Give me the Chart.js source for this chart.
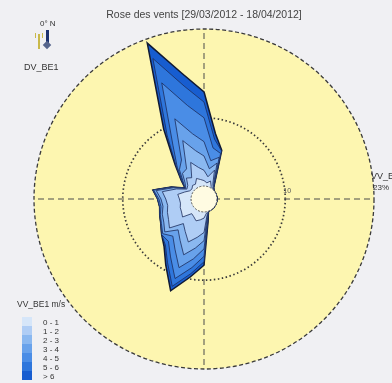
<!DOCTYPE html>
<html>
<head>
<meta charset="utf-8">
<script src="https://cdn.jsdelivr.net/npm/chart.js@4.4.1/dist/chart.umd.min.js"></script>
<style>
  html, body { margin: 0; padding: 0; width: 392px; height: 383px; overflow: hidden; background: #f0f0f3; font-family: "Liberation Sans", Arial, sans-serif; }
  #wrap { position: absolute; left: 24px; top: 19px; width: 360px; height: 360px; }
  .t { position: absolute; white-space: nowrap; color: #333; line-height: 1; }
  #legend .row { position: absolute; left: 0; height: 9px; width: 60px; }
  #legend .sw { position: absolute; left: 0; top: 0; width: 10px; height: 9px; }
  #legend .lb { position: absolute; left: 21px; top: 1px; font-size: 8px; color: #333; white-space: nowrap; }
  .vane { position: absolute; }
</style>
</head>
<body>
<div id="wrap"><canvas id="rose"></canvas></div>

<div class="t" style="left:0;width:408px;text-align:center;top:9px;font-size:10.5px;color:#444;">Rose des vents [29/03/2012 - 18/04/2012]</div>

<!-- north indicator -->
<div class="t" style="left:40px;top:20px;font-size:8px;">0° N</div>
<div class="vane" style="left:38px;top:34px;width:2px;height:15px;background:#c9b94a;"></div>
<div class="vane" style="left:35px;top:33px;width:8px;height:5px;border-left:1px solid #c9b94a;border-right:1px solid #c9b94a;box-sizing:border-box;"></div>
<div class="vane" style="left:46px;top:30px;width:3px;height:13px;background:#1d3270;"></div>
<div class="vane" style="left:44px;top:42px;width:6px;height:6px;background:#56658c;transform:rotate(45deg);"></div>
<div class="t" style="left:24px;top:63px;font-size:9px;">DV_BE1</div>

<!-- radial axis labels -->
<div class="t" id="ringLabel" style="font-size:7px;color:#555;"></div>
<div class="t" id="axisName" style="font-size:9px;"></div>
<div class="t" id="axisMax" style="font-size:8px;"></div>

<!-- speed legend -->
<div class="t" id="legendTitle" style="left:17px;top:300px;font-size:8.5px;"></div>
<div id="legend" style="position:absolute;left:22px;top:317px;"></div>

<script>
// Wind direction sectors (degrees from north, 10° steps)
const directions = [0, 10, 20, 30, 40, 50, 60, 70, 80, 90, 100, 110, 120, 130, 140, 150, 160, 170,
                    180, 190, 200, 210, 220, 230, 240, 250, 260, 270, 280, 290, 300, 310, 320, 330, 340, 350];

// Wind speed classes (m/s)
const speedClasses = ['0 - 1', '1 - 2', '2 - 3', '3 - 4', '4 - 5', '5 - 6', '> 6'];
const speedVariable = 'VV_BE1 m/s';
const radialVariable = 'VV_BE1';

// Frequency (%) per direction for each speed class
const class1 = [0.8, 0.5, 0.9, 0.2, 0.1, 0, 0, 0, 0, 0, 0, 0, 0, 0, 0, 0, 0, 0.2, 0.9, 1.2, 1.5, 1.1, 0.9, 2.2, 1.9, 1.8, 1.6, 1.7, 2.0, 1.1, 0.5, 0.4, 0.7, 0.6, 1.3, 1.0];
const class2 = [1.5, 0.9, 1.7, 0.5, 0.1, 0, 0, 0, 0, 0, 0, 0, 0, 0, 0, 0, 0, 0.4, 2.1, 2.6, 3.3, 2.5, 1.9, 2.5, 2.2, 2.0, 1.9, 2.0, 2.3, 1.3, 0.5, 0.8, 1.4, 1.1, 2.5, 1.8];
const class3 = [2.1, 1.2, 1.1, 0.3, 0.1, 0, 0, 0, 0, 0, 0, 0, 0, 0, 0, 0, 0, 0.2, 1.2, 1.6, 2.0, 1.5, 1.2, 0.9, 0.8, 0.8, 0.7, 0.7, 0.9, 0.5, 0.2, 0.5, 0.9, 1.5, 3.4, 2.5];
const class4 = [2.1, 1.2, 0.9, 0.2, 0, 0, 0, 0, 0, 0, 0, 0, 0, 0, 0, 0, 0, 0.3, 1.2, 1.6, 2.0, 1.5, 1.2, 0.4, 0.4, 0.3, 0.3, 0.3, 0.4, 0.2, 0.1, 0.4, 0.7, 1.5, 3.4, 2.5];
const class5 = [3.5, 1.9, 0.6, 0.2, 0, 0, 0, 0, 0, 0, 0, 0, 0, 0, 0, 0, 0, 0.2, 1.1, 1.3, 1.7, 1.3, 1.0, 0.2, 0.1, 0.1, 0.2, 0.2, 0.1, 0.1, 0, 0.2, 0.5, 2.5, 5.6, 4.2];
const class6 = [2.3, 1.3, 0.4, 0.1, 0, 0, 0, 0, 0, 0, 0, 0, 0, 0, 0, 0, 0, 0.1, 0.8, 0.9, 1.2, 0.9, 0.7, 0, 0, 0, 0, 0, 0, 0, 0, 0.2, 0.3, 1.7, 3.8, 2.9];
const class7 = [1.5, 0.8, 0.1, 0, 0, 0, 0, 0, 0, 0, 0, 0, 0, 0, 0, 0, 0, 0.1, 0.5, 0.5, 0.7, 0.5, 0.3, 0, 0, 0, 0, 0, 0, 0, 0, 0, 0.2, 1.0, 2.4, 1.9];

// Radial axis: rings and range (%); the negative minimum leaves a calm hub in the middle
const ringValues = [10, 23];
const ringLabel = '10';
const axisMaxLabel = '23%';
const rMin = -1.9;
const rMax = 23;

const classSeries = [class1, class2, class3, class4, class5, class6, class7];
const classColors = ['#d6e6f9', '#afcdf5', '#8ab8f0', '#68a2eb', '#4a8de6', '#2e76dc', '#175dd0'];

// Stacked (cumulative) polygons, lightest class on top
const cumulative = [];
classSeries.forEach((series, k) => {
  cumulative.push(series.map((v, i) => +(v + (k ? cumulative[k - 1][i] : 0)).toFixed(2)));
});

const datasets = cumulative.map((values, k) => ({
  label: speedClasses[k],
  data: values,
  backgroundColor: classColors[k],
  borderColor: k === cumulative.length - 1 ? '#111a33' : '#1c2c5c',
  borderWidth: k === cumulative.length - 1 ? 1.5 : 0.8,
  fill: 'start',
  pointRadius: 0
}));

// Yellow disk behind the grid
const diskPlugin = {
  id: 'disk',
  beforeDraw(chart) {
    const s = chart.scales.r;
    const ctx = chart.ctx;
    ctx.save();
    ctx.beginPath();
    ctx.arc(s.xCenter, s.yCenter, s.drawingArea, 0, Math.PI * 2);
    ctx.fillStyle = '#fdf6b0';
    ctx.fill();
    ctx.restore();
  }
};

// Calm hub drawn over the rose
const hubPlugin = {
  id: 'hub',
  afterDatasetsDraw(chart) {
    const s = chart.scales.r;
    const ctx = chart.ctx;
    const r = s.getDistanceFromCenterForValue(0);
    ctx.save();
    ctx.beginPath();
    ctx.arc(s.xCenter, s.yCenter, r, 0, Math.PI * 2);
    ctx.fillStyle = '#fffbe2';
    ctx.fill();
    ctx.setLineDash([2, 1.5]);
    ctx.strokeStyle = '#555';
    ctx.lineWidth = 1;
    ctx.stroke();
    ctx.restore();
  }
};

const chart = new Chart(document.getElementById('rose'), {
  type: 'radar',
  data: { labels: directions.map(d => d + '°'), datasets },
  options: {
    responsive: true,
    maintainAspectRatio: false,
    animation: false,
    layout: { padding: 10 },
    plugins: { legend: { display: false }, title: { display: false }, tooltip: { enabled: false } },
    elements: { point: { radius: 0, hoverRadius: 0 }, line: { tension: 0 } },
    scales: {
      r: {
        min: rMin,
        max: rMax,
        startAngle: 0,
        afterBuildTicks: s => { s.ticks = ringValues.map(v => ({ value: v })); },
        ticks: { display: false },
        pointLabels: { display: false },
        grid: {
          circular: true,
          color: '#3a3a3a',
          lineWidth: c => (c.tick && c.tick.value === rMax ? 1.3 : 1.7)
        },
        border: {
          dash: c => (c.tick && c.tick.value === rMax ? [4, 2.5] : [1.5, 2.5])
        },
        angleLines: {
          color: c => (c.index % 9 === 0 ? '#4a4a4a' : 'rgba(0,0,0,0)'),
          lineWidth: c => (c.index % 9 === 0 ? 1 : 0),
          borderDash: [6, 4]
        }
      }
    }
  },
  plugins: [diskPlugin, hubPlugin]
});

// Axis labels placed from the scale geometry
(function placeLabels() {
  const s = chart.scales.r;
  const ox = 24, oy = 19;
  const east = directions.indexOf(90);
  const pRing = s.getPointPositionForValue(east, ringValues[0]);
  const ring = document.getElementById('ringLabel');
  ring.textContent = ringLabel;
  ring.style.left = (ox + pRing.x - 2) + 'px';
  ring.style.top = (oy + pRing.y - 12) + 'px';
  const pMax = s.getPointPositionForValue(east, rMax);
  const nm = document.getElementById('axisName');
  nm.textContent = radialVariable;
  nm.style.left = (ox + pMax.x - 3) + 'px';
  nm.style.top = (oy + pMax.y - 27) + 'px';
  const mx = document.getElementById('axisMax');
  mx.textContent = axisMaxLabel;
  mx.style.left = (ox + pMax.x - 1) + 'px';
  mx.style.top = (oy + pMax.y - 15) + 'px';
})();

// Speed legend
document.getElementById('legendTitle').textContent = speedVariable;
const legend = document.getElementById('legend');
speedClasses.forEach((name, k) => {
  const row = document.createElement('div');
  row.className = 'row';
  row.style.top = (k * 9) + 'px';
  const sw = document.createElement('div');
  sw.className = 'sw';
  sw.style.background = classColors[k];
  const lb = document.createElement('div');
  lb.className = 'lb';
  lb.textContent = name;
  row.appendChild(sw);
  row.appendChild(lb);
  legend.appendChild(row);
});
</script>
</body>
</html>
